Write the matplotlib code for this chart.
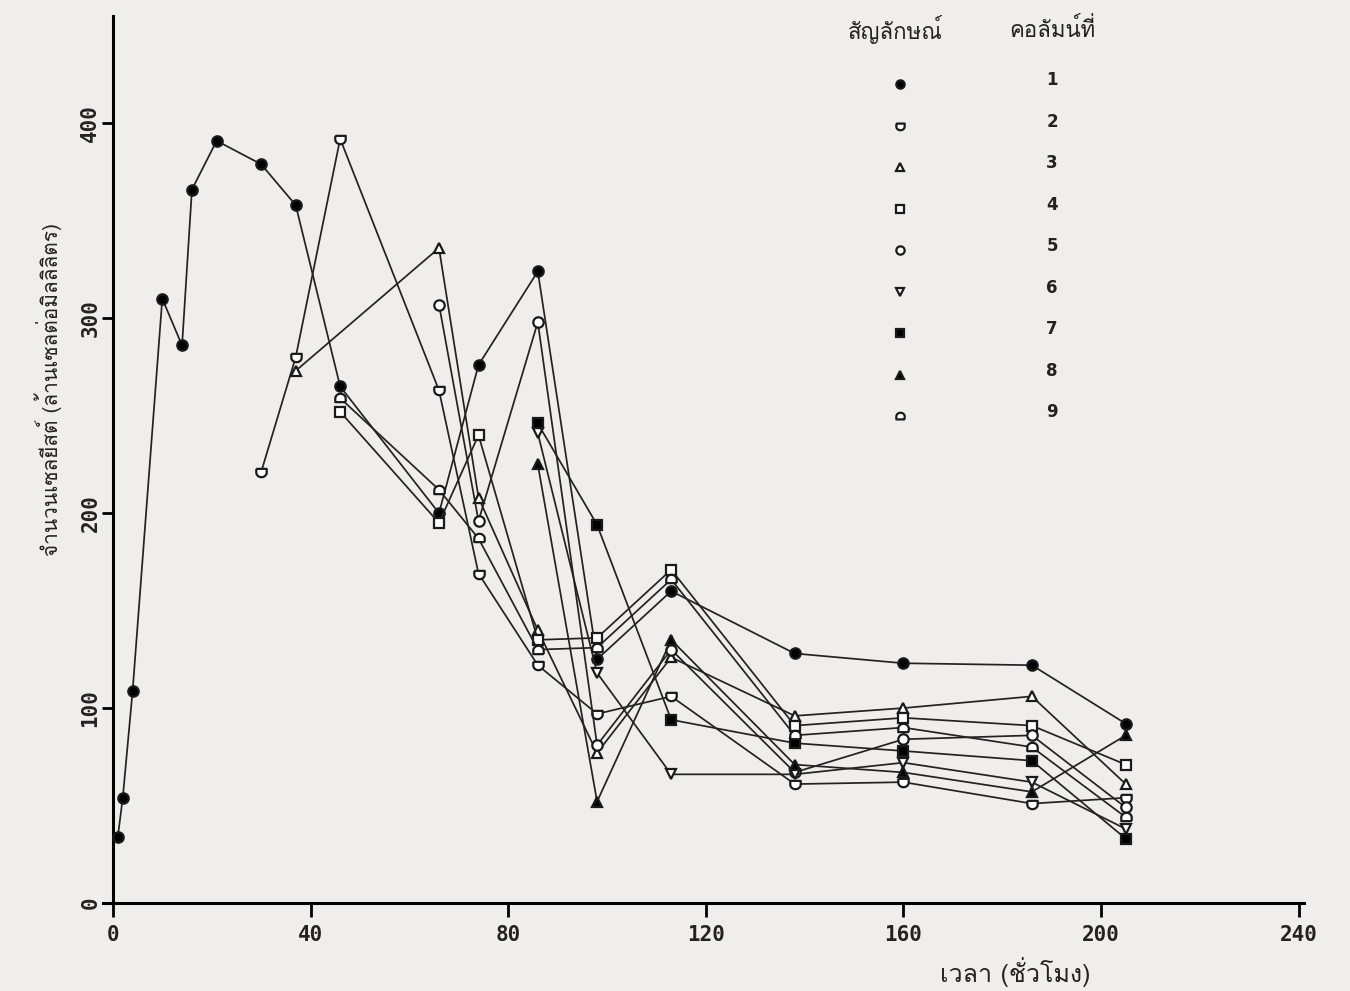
import numpy as np
import matplotlib
matplotlib.use("Agg")
import matplotlib.pyplot as plt
from matplotlib.path import Path
from matplotlib import font_manager as fm
from matplotlib.ft2font import FT2Font

# ---------------- data ----------------
t1 = [1, 2, 4, 10, 14, 16, 21, 30, 37, 46, 66, 74, 86, 98, 113, 138, 160, 186, 205]
v1 = [34, 54, 109, 310, 286, 366, 391, 379, 358, 265, 200, 276, 324, 125, 160, 128, 123, 122, 92]

t2 = [30, 37, 46, 66, 74, 86, 98, 113, 138, 160, 186, 205]
v2 = [221, 280, 392, 263, 169, 122, 97, 106, 61, 62, 51, 54]

t3 = [37, 66, 74, 86, 98, 113, 138, 160, 186, 205]
v3 = [273, 336, 208, 140, 77, 126, 96, 100, 106, 61]

t4 = [46, 66, 74, 86, 98, 113, 138, 160, 186, 205]
v4 = [252, 195, 240, 135, 136, 171, 91, 95, 91, 71]

t5 = [66, 74, 86, 98, 113, 138, 160, 186, 205]
v5 = [307, 196, 298, 81, 130, 67, 84, 86, 49]

t6 = [86, 98, 113, 138, 160, 186, 205]
v6 = [241, 118, 66, 66, 72, 62, 38]

t7 = [86, 98, 113, 138, 160, 186, 205]
v7 = [246, 194, 94, 82, 78, 73, 33]

t8 = [86, 98, 113, 138, 160, 186, 205]
v8 = [225, 52, 135, 71, 67, 57, 86]

t9 = [46, 66, 74, 86, 98, 113, 138, 160, 186, 205]
v9 = [259, 212, 187, 130, 131, 166, 86, 90, 80, 44]

column_labels = ["1", "2", "3", "4", "5", "6", "7", "8", "9"]
x_ticks = [0, 40, 80, 120, 160, 200, 240]
y_ticks = [0, 100, 200, 300, 400]
x_label = "เวลา (ชั่วโมง)"
y_label = "จำนวนเซลยีสต์ (ล้านเซลต่อมิลลิลิตร)"
legend_head = ["สัญลักษณ์", "คอลัมน์ที่"]

# ---------------- fonts ----------------
thai_font = None
for f in fm.fontManager.ttflist:
    try:
        if ord("ก") in FT2Font(f.fname).get_charmap():
            thai_font = f.name
            break
    except Exception:
        pass
thai_family = [thai_font, "DejaVu Sans"] if thai_font else ["DejaVu Sans"]

# ---------------- markers ----------------
th = np.linspace(0, np.pi, 20)


def closed_path(pts):
    pts = np.vstack([pts, pts[:1]])
    return Path(pts)


shield = closed_path(np.vstack([[[-1, 0.7], [1, 0.7]],
                                np.column_stack([np.cos(th), -np.sin(th) * 0.9])]))
dome = closed_path(np.vstack([[[1, -0.7], [-1, -0.7]],
                              np.column_stack([-np.cos(th), np.sin(th) * 0.9])]))

series = [
    (t1, v1, "o", "black"),
    (t2, v2, shield, "white"),
    (t3, v3, "^", "white"),
    (t4, v4, "s", "white"),
    (t5, v5, "o", "white"),
    (t6, v6, "v", "white"),
    (t7, v7, "s", "black"),
    (t8, v8, "^", "black"),
    (t9, v9, dome, "white"),
]

# ---------------- figure ----------------
bg = "#efeeea"
fig = plt.figure(figsize=(13.5, 9.91), dpi=100, facecolor=bg)
ax = fig.add_axes([0.0763, 0.0888, 0.893, 0.895])
ax.set_facecolor(bg)
ax.patch.set_alpha(0)

for t, v, m, fc in series:
    ax.plot(t, v, color="#222222", lw=1.25, marker=m, markersize=7.5,
            markerfacecolor=fc, markeredgecolor="#1a1a1a", markeredgewidth=1.6,
            zorder=3)

ax.set_xlim(-2, 242)
ax.set_ylim(0, 455)
for s in ["top", "right"]:
    ax.spines[s].set_visible(False)
ax.spines["left"].set_position(("data", 0))
ax.spines["left"].set_linewidth(2.2)
ax.spines["bottom"].set_linewidth(2.2)
ax.spines["bottom"].set_bounds(-2, 241)

ax.set_xticks(x_ticks)
ax.set_xticklabels([str(v) for v in x_ticks], family="DejaVu Sans Mono",
                   fontsize=15, fontweight="bold", color="#222222")
ax.set_yticks(y_ticks)
ax.set_yticklabels([str(v) for v in y_ticks], family="DejaVu Sans Mono",
                   fontsize=15, fontweight="bold", color="#222222",
                   rotation=90, va="center")
ax.tick_params(axis="x", direction="out", length=10, width=2, pad=6)
ax.tick_params(axis="y", direction="out", length=8, width=2, pad=1)

# axis labels
fig.text(1015 / 1350, 1 - 972 / 991, x_label, family=thai_family,
         fontsize=18, ha="center", va="center", color="#222222")
fig.text(48 / 1350, 1 - 390 / 991, y_label, family=thai_family,
         fontsize=15, ha="center", va="center", rotation=90, color="#222222")

# legend (symbol table)
fig.text(895 / 1350, 1 - 30 / 991, legend_head[0], family=thai_family,
         fontsize=16, ha="center", va="center", color="#222222")
fig.text(1052 / 1350, 1 - 30 / 991, legend_head[1], family=thai_family,
         fontsize=16, ha="center", va="center", color="#222222")
for i, ((t, v, m, fc), lab) in enumerate(zip(series, column_labels)):
    yy = 1 - (84 + i * 41.5) / 991
    fig.lines.append(plt.Line2D([900 / 1350], [yy], transform=fig.transFigure,
                                marker=m, markersize=6, markerfacecolor=fc,
                                markeredgecolor="#1a1a1a", markeredgewidth=1.6,
                                linestyle="none"))
    fig.text(1052 / 1350, yy + 0.004, lab, family="DejaVu Sans",
             fontsize=12, fontweight="bold", ha="center", va="center",
             color="#222222")

fig.savefig("out.png", dpi=100, facecolor=bg)
